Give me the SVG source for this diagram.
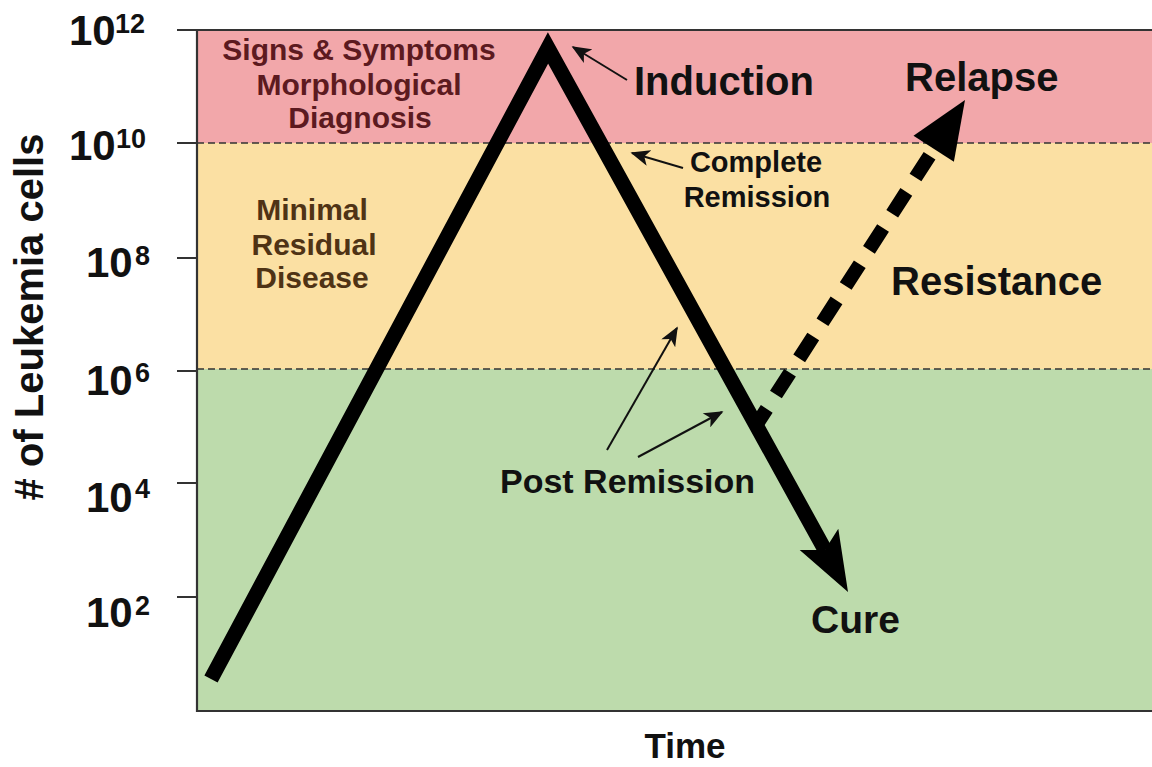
<svg xmlns="http://www.w3.org/2000/svg" width="1152" height="767" viewBox="0 0 1152 767">
<style>
text{font-family:"Liberation Sans",Arial,Helvetica,sans-serif;font-weight:bold;fill:#111}
.tick{font-size:42px}
.sup{font-size:27px}
.band1{font-size:30px;fill:#5c1a20;text-anchor:middle}
.band2{font-size:30px;fill:#4f3315;text-anchor:middle}
.big{font-size:40px}
.mid{font-size:29px;text-anchor:middle}
.div{stroke:#333;stroke-width:1.6;stroke-dasharray:7 4;fill:none}
.axis{stroke:#333;stroke-width:2.2;fill:none}
.thin{stroke:#111;stroke-width:2;fill:none;marker-end:url(#ah)}
</style>
<defs>
<marker id="ah" viewBox="0 0 12 10" refX="11" refY="5" markerWidth="10" markerHeight="8" orient="auto" markerUnits="strokeWidth">
<path d="M0,0 L12,5 L0,10 L3,5 Z" fill="#111"/>
</marker>
</defs>
<rect x="0" y="0" width="1152" height="767" fill="#ffffff"/>
<g id="bands">
<rect x="197" y="30" width="955" height="113" fill="#f2a7aa"/>
<rect x="197" y="143" width="955" height="226" fill="#fbe0a3"/>
<rect x="197" y="369" width="955" height="342" fill="#bddbac"/>
<line class="div" x1="197" y1="143" x2="1152" y2="143"/>
<line class="div" x1="197" y1="369" x2="1152" y2="369"/>
</g>
<g id="axes">
<path class="axis" d="M177,30 H1152 M197,30 V711 H1152"/>
<path class="axis" d="M177,143 H197 M177,258 H197 M177,371 H197 M177,483 H197 M177,597 H197"/>
<text class="tick" x="69" y="45">10</text><text class="sup" x="115" y="33">12</text>
<text class="tick" x="69" y="160">10</text><text class="sup" x="116" y="148">10</text>
<text class="tick" x="86" y="277">10</text><text class="sup" x="135" y="265">8</text>
<text class="tick" x="86" y="395">10</text><text class="sup" x="135" y="382">6</text>
<text class="tick" x="86" y="512">10</text><text class="sup" x="135" y="498">4</text>
<text class="tick" x="86" y="627">10</text><text class="sup" x="135" y="615">2</text>
<text transform="translate(43,317) rotate(-90)" text-anchor="middle" font-size="40"># of Leukemia cells</text>
<text x="685" y="758" text-anchor="middle" font-size="35">Time</text>
</g>
<g id="band-labels">
<text class="band1" x="359" y="60">Signs &amp; Symptoms</text>
<text class="band1" x="359" y="95">Morphological</text>
<text class="band1" x="360" y="128">Diagnosis</text>
<text class="band2" x="312" y="220">Minimal</text>
<text class="band2" x="314" y="255">Residual</text>
<text class="band2" x="312" y="288">Disease</text>
</g>
<g id="connectors">
<g id="main-curve">
<polyline points="211,679 548,48 825,550" fill="none" stroke="#000" stroke-width="15" stroke-linejoin="miter" stroke-miterlimit="6"/>
<polygon points="848,592 838.3,528.8 824.8,550 799.7,550" fill="#000"/>
</g>
<g id="relapse-arrow">
<line x1="757" y1="424" x2="934" y2="148.8" stroke="#000" stroke-width="14" stroke-dasharray="26 17" stroke-dashoffset="8"/>
<polygon points="965,100 953.9,161.8 933.7,148.8 913.5,135.8" fill="#000"/>
</g>
<line class="thin" x1="627" y1="80" x2="573" y2="47"/>
<line class="thin" x1="683" y1="168" x2="632" y2="153"/>
<line class="thin" x1="607" y1="450" x2="677" y2="328"/>
<line class="thin" x1="638" y1="457" x2="722" y2="412"/>
</g>
<g id="labels">
<text class="big" x="634" y="95">Induction</text>
<text class="big" x="905" y="91">Relapse</text>
<text class="mid" x="756" y="172">Complete</text>
<text class="mid" x="757" y="207">Remission</text>
<text class="big" x="891" y="295" font-size="41">Resistance</text>
<text x="500" y="493" font-size="34">Post Remission</text>
<text x="811" y="633" font-size="39">Cure</text>
</g>
</svg>
